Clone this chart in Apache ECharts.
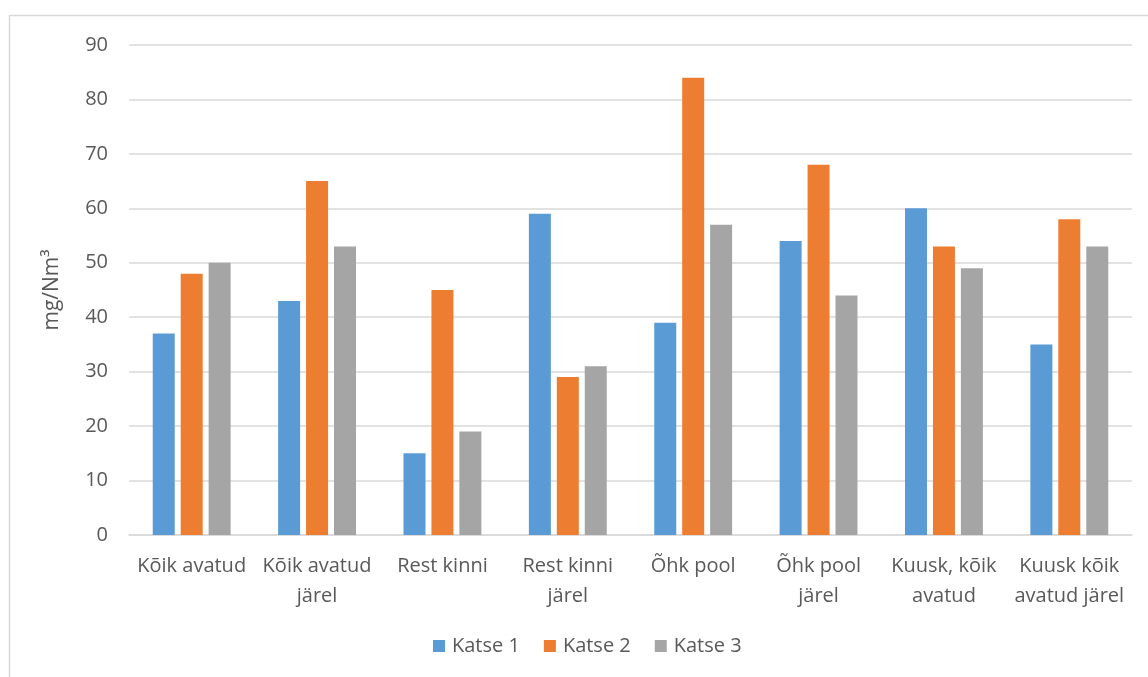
<!DOCTYPE html>
<html>
<head>
<meta charset="utf-8">
<script src="https://cdn.jsdelivr.net/npm/echarts@6/dist/echarts.min.js"></script>
<style>
  html, body { margin: 0; padding: 0; background: #fff; }
  #chart { width: 1148px; height: 677px; }
</style>
</head>
<body>
<div id="chart"></div>
<script>
// Categories (line breaks as they wrap under the axis)
const categories = [
  'Kõik avatud',
  'Kõik avatud\njärel',
  'Rest kinni',
  'Rest kinni\njärel',
  'Õhk pool',
  'Õhk pool\njärel',
  'Kuusk, kõik\navatud',
  'Kuusk kõik\navatud järel'
];
const seriesNames = ['Katse 1', 'Katse 2', 'Katse 3'];
const katse1 = [37, 43, 15, 59, 39, 54, 60, 35];
const katse2 = [48, 65, 45, 29, 84, 68, 53, 58];
const katse3 = [50, 53, 19, 31, 57, 44, 49, 53];
const yTicks = { min: 0, max: 90, interval: 10 };
const colors = ['#5b9bd5', '#ed7d31', '#a5a5a5'];

const font = '"Open Sans", "Noto Sans", sans-serif';
const textColor = '#595959';

const chart = echarts.init(document.getElementById('chart'), null, { renderer: 'canvas' });
const data = [katse1, katse2, katse3];

chart.setOption({
  animation: false,
  color: colors,
  textStyle: { fontFamily: font },
  graphic: [{
    type: 'rect',
    shape: { x: 9.5, y: 15.5, width: 1200, height: 700 },
    style: { fill: 'none', stroke: '#d9d9d9', lineWidth: 1.5 },
    silent: true
  }],
  grid: { left: 129, right: 16, top: 45, bottom: 142, containLabel: false },
  legend: {
    data: seriesNames,
    bottom: 16,
    left: 428,
    itemWidth: 12,
    itemHeight: 12,
    itemGap: 24,
    icon: 'rect',
    textStyle: { color: textColor, fontSize: 20, fontFamily: font, padding: [0, 0, 0, 2] }
  },
  xAxis: {
    type: 'category',
    data: categories,
    axisLine: { lineStyle: { color: '#d9d9d9', width: 1.5 } },
    axisTick: { show: false },
    axisLabel: {
      color: textColor,
      fontSize: 20,
      lineHeight: 30,
      margin: 16,
      interval: 0,
      fontFamily: font
    }
  },
  yAxis: {
    type: 'value',
    min: yTicks.min,
    max: yTicks.max,
    interval: yTicks.interval,
    name: 'mg/Nm³',
    nameLocation: 'middle',
    nameGap: 66,
    nameRotate: 90,
    nameTextStyle: { color: textColor, fontSize: 21, fontFamily: font },
    axisLine: { show: false },
    axisTick: { show: false },
    axisLabel: { color: textColor, fontSize: 20, margin: 21, fontFamily: font },
    splitLine: { lineStyle: { color: '#d9d9d9', width: 1.5 } }
  },
  series: seriesNames.map((name, i) => ({
    name,
    type: 'bar',
    data: data[i],
    barWidth: 22,
    barGap: '27%'
  }))
});
</script>
</body>
</html>
